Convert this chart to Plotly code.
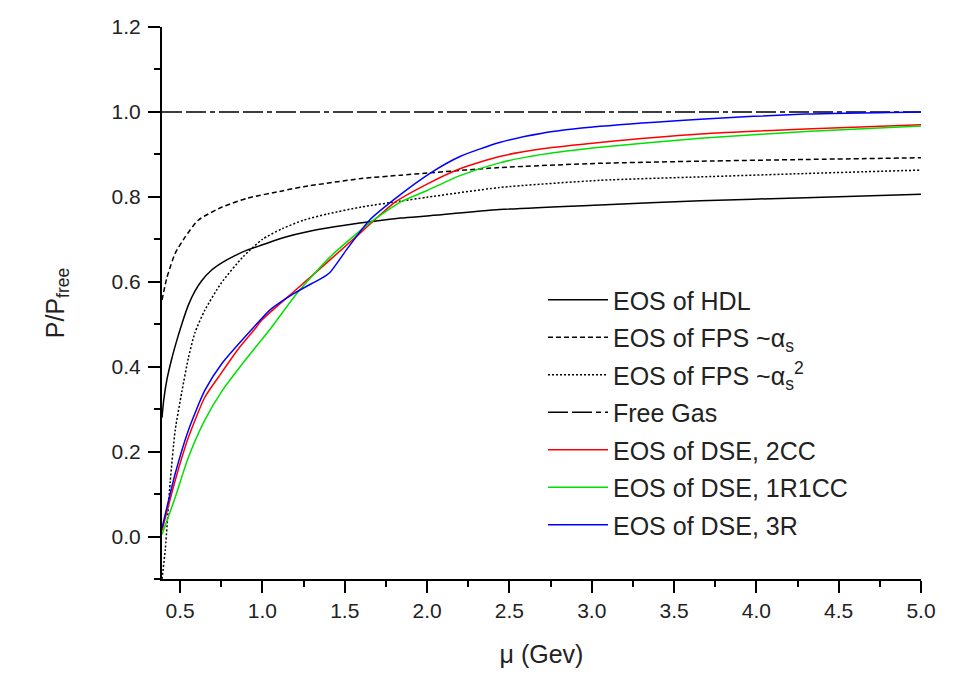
import plotly.graph_objects as go

# ---- data ----
mu_hdl = [0.39, 0.40, 0.42, 0.45, 0.48, 0.51, 0.55, 0.59, 0.63, 0.69, 0.755, 0.83, 0.91, 1.00, 1.12, 1.30, 1.50, 1.84, 2.00, 2.44, 3.05, 3.66, 4.30, 5.00]
p_hdl = [0.28, 0.32, 0.37, 0.42, 0.462, 0.50, 0.545, 0.578, 0.602, 0.627, 0.645, 0.661, 0.675, 0.687, 0.703, 0.72, 0.733, 0.75, 0.755, 0.77, 0.781, 0.791, 0.798, 0.806]

mu_fps1 = [0.39, 0.42, 0.47, 0.53, 0.61, 0.755, 0.91, 1.12, 1.25, 1.60, 1.84, 2.00, 2.44, 3.05, 3.66, 4.30, 5.00]
p_fps1 = [0.557, 0.61, 0.667, 0.705, 0.745, 0.776, 0.797, 0.814, 0.824, 0.843, 0.851, 0.856, 0.869, 0.879, 0.884, 0.888, 0.892]

mu_fps2 = [0.39, 0.41, 0.44, 0.47, 0.51, 0.55, 0.59, 0.65, 0.75, 0.88, 1.00, 1.12, 1.25, 1.40, 1.60, 1.84, 2.00, 2.44, 3.05, 3.66, 4.30, 5.00]
p_fps2 = [-0.10, -0.03, 0.13, 0.25, 0.34, 0.42, 0.48, 0.533, 0.597, 0.658, 0.70, 0.725, 0.745, 0.76, 0.776, 0.79, 0.799, 0.822, 0.839, 0.847, 0.855, 0.863]

mu_free = [0.39, 5.00]
p_free = [1.0, 1.0]

mu_2cc = [0.39, 0.47, 0.55, 0.65, 0.75, 0.85, 0.95, 1.00, 1.20, 1.40, 1.60, 1.80, 2.00, 2.20, 2.44, 2.70, 3.05, 3.66, 4.30, 5.00]
p_2cc = [0.014, 0.132, 0.233, 0.328, 0.385, 0.44, 0.487, 0.511, 0.58, 0.648, 0.717, 0.786, 0.83, 0.866, 0.895, 0.913, 0.928, 0.948, 0.960, 0.970]

mu_1r1cc = [0.39, 0.47, 0.55, 0.65, 0.755, 0.895, 1.05, 1.21, 1.41, 1.65, 1.84, 2.00, 2.20, 2.44, 2.70, 3.05, 3.66, 4.30, 5.00]
p_1r1cc = [0.005, 0.092, 0.186, 0.274, 0.343, 0.415, 0.49, 0.573, 0.658, 0.738, 0.788, 0.815, 0.85, 0.88, 0.90, 0.917, 0.938, 0.954, 0.967]

mu_3r = [0.39, 0.47, 0.55, 0.65, 0.755, 0.94, 1.05, 1.19, 1.30, 1.35, 1.41, 1.51, 1.65, 1.82, 2.02, 2.20, 2.44, 2.70, 3.05, 3.66, 4.30, 5.00]
p_3r = [0.02, 0.148, 0.25, 0.344, 0.408, 0.49, 0.535, 0.572, 0.596, 0.606, 0.622, 0.675, 0.745, 0.80, 0.856, 0.895, 0.928, 0.950, 0.966, 0.983, 0.995, 1.000]

names = ["EOS of HDL", "EOS of FPS ~α<sub>s</sub>", "EOS of FPS ~α<sub>s</sub><sup>2</sup>", "Free Gas",
         "EOS of DSE, 2CC", "EOS of DSE, 1R1CC", "EOS of DSE, 3R"]

x_ticks = [0.5, 1.0, 1.5, 2.0, 2.5, 3.0, 3.5, 4.0, 4.5, 5.0]
y_ticks = [0.0, 0.2, 0.4, 0.6, 0.8, 1.0, 1.2]

FONT = "Liberation Sans, Arial, sans-serif"

fig = go.Figure()
series = [
    (mu_hdl, p_hdl, names[0], "black", "solid", "spline"),
    (mu_fps1, p_fps1, names[1], "black", "5px,3px", "spline"),
    (mu_fps2, p_fps2, names[2], "black", "2px,2px", "spline"),
    (mu_free, p_free, names[3], "black", "20px,4px,20px,4px,5px,4px", "linear"),
    (mu_2cc, p_2cc, names[4], "#ff0000", "solid", "spline"),
    (mu_1r1cc, p_1r1cc, names[5], "#00e000", "solid", "spline"),
    (mu_3r, p_3r, names[6], "#0000ff", "solid", "spline"),
]
for i, (x, y, n, c, d, s) in enumerate(series):
    fig.add_trace(go.Scatter(x=x, y=y, name=n, mode="lines", legendgroup=f"g{i}",
                             line=dict(color=c, width=1.5, dash=d, shape=s, smoothing=0.6)))

# page is offset 8px by the body margin; margins compensate
L, R, T, B = 154, 66, 19, 108
W, H = 979, 679
pw, ph = W - L - R, H - T - B

fig.update_layout(
    width=W, height=H,
    margin=dict(l=L, r=R, t=T, b=B, autoexpand=False),
    paper_bgcolor="white",
    plot_bgcolor="white",
    font=dict(family=FONT, color="#222", size=21),
    showlegend=True,
    legend=dict(x=(535 - L) / pw, y=(H - B - 269) / ph, xanchor="left", yanchor="top",
                bgcolor="rgba(0,0,0,0)", font=dict(size=25, family=FONT, color="#222"),
                itemwidth=60, tracegroupgap=2),
)
fig.update_xaxes(
    range=[0.39, 5.0], tickvals=x_ticks, ticktext=[f"{v:.1f}" for v in x_ticks],
    showline=True, linecolor="black", linewidth=2, mirror=False,
    ticks="outside", ticklen=12, tickwidth=2, tickcolor="black",
    minor=dict(ticks="outside", ticklen=6, tickwidth=2, tickcolor="black", dtick=0.25, tick0=0.25, showgrid=False),
    showgrid=False, zeroline=False,
    title=dict(text="μ (Gev)", font=dict(size=25, family=FONT), standoff=24),
    tickfont=dict(size=21, family=FONT),
)
fig.update_yaxes(
    range=[-0.1, 1.2], tickvals=y_ticks, ticktext=[f"{v:.1f}" for v in y_ticks],
    showline=True, linecolor="black", linewidth=2, mirror=False,
    ticks="outside", ticklen=12, tickwidth=2, tickcolor="black", ticklabelstandoff=3,
    minor=dict(ticks="outside", ticklen=6, tickwidth=2, tickcolor="black", dtick=0.1, tick0=0.1, showgrid=False),
    showgrid=False, zeroline=False,
    title=dict(text="P/P<sub>free</sub>", font=dict(size=25, family=FONT), standoff=40),
    tickfont=dict(size=21, family=FONT),
)

fig.write_html("out.html")
